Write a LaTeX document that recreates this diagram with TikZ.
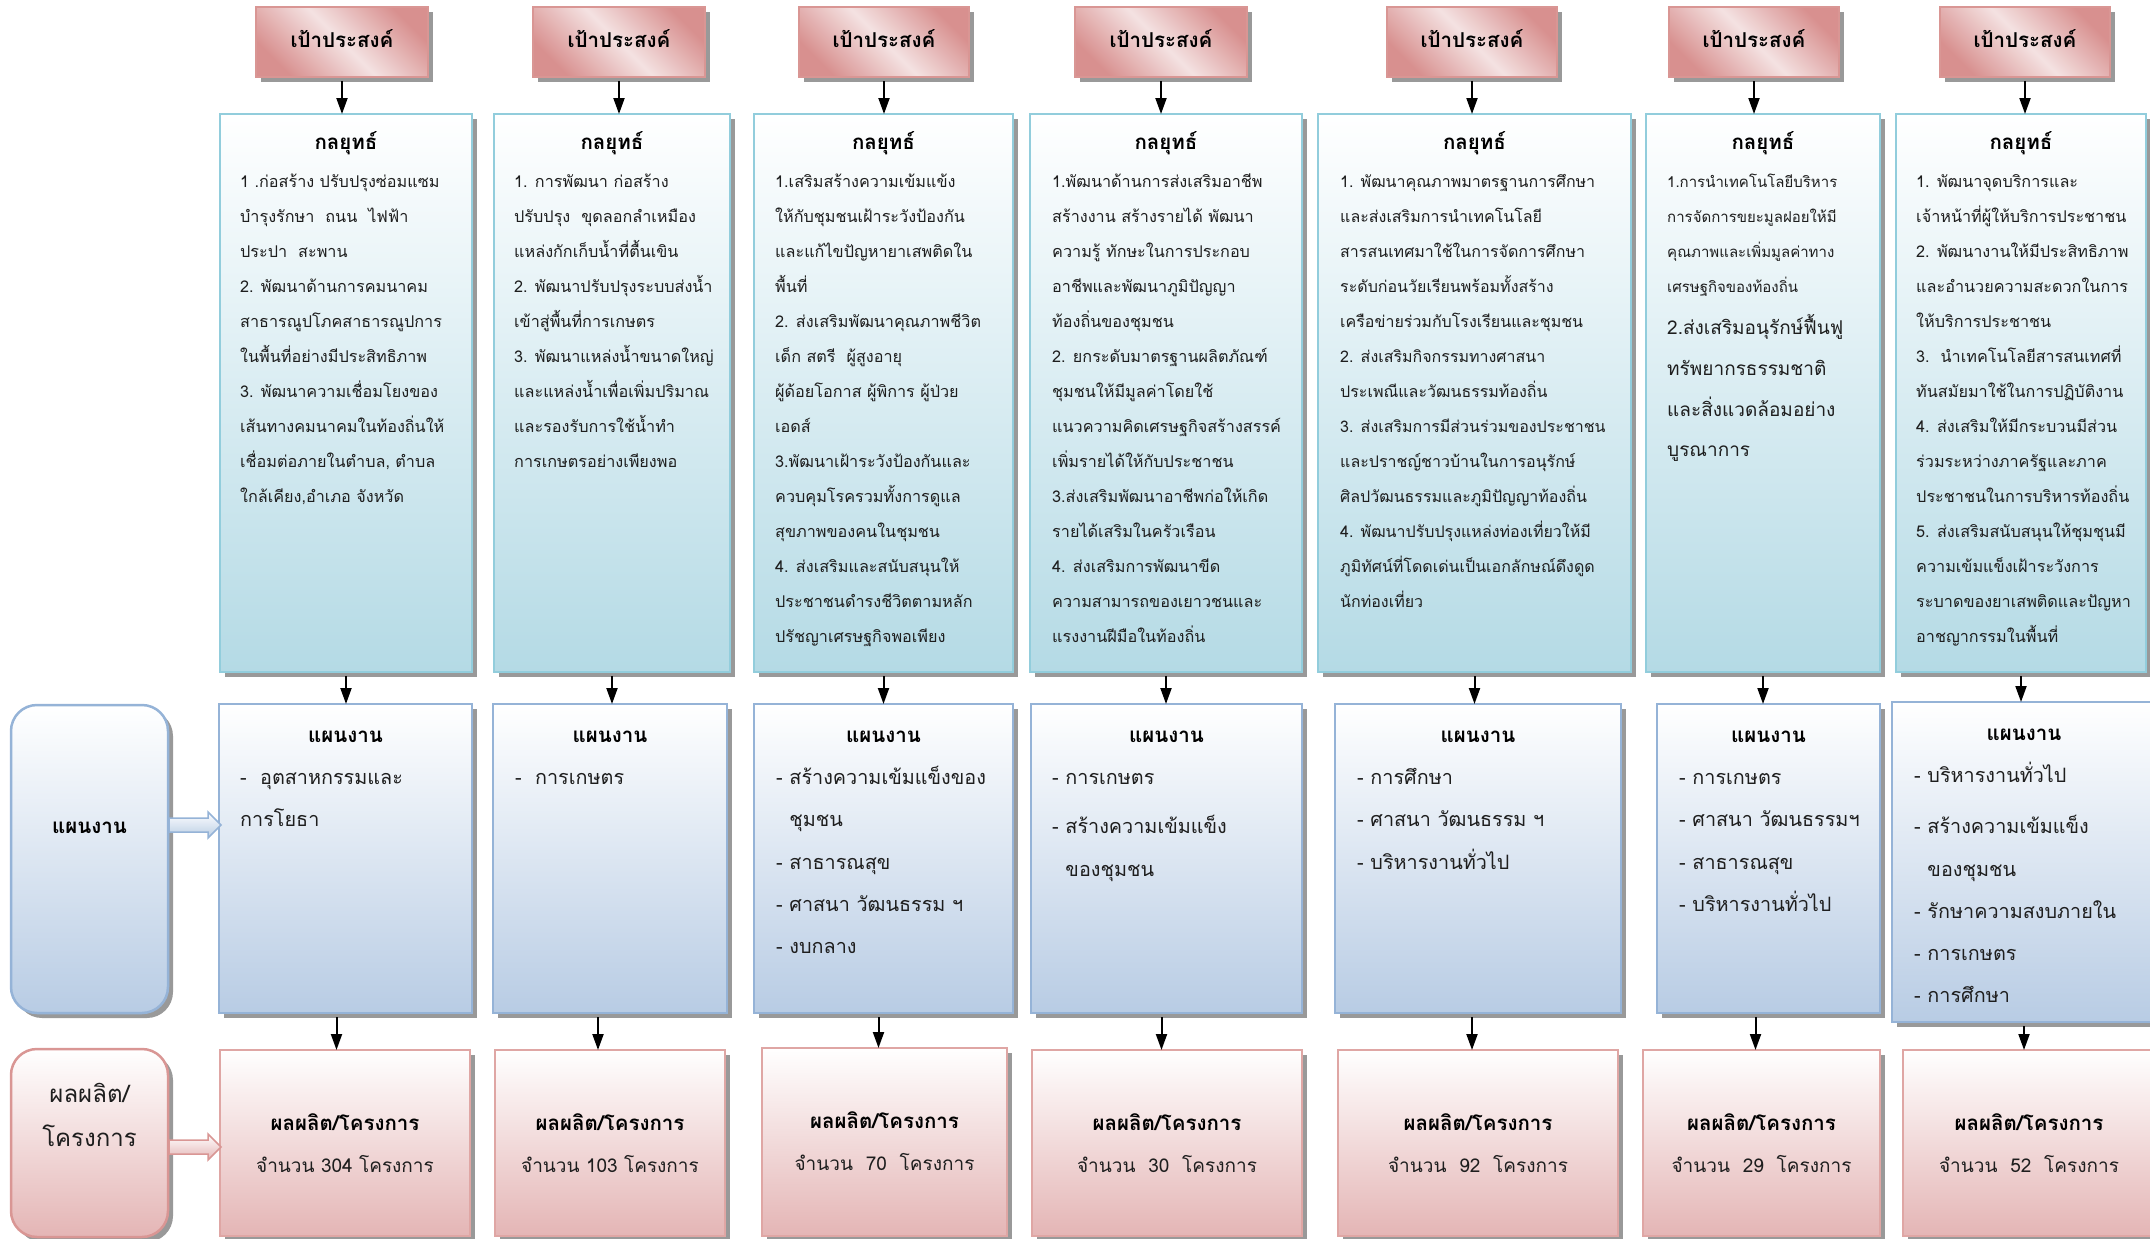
\documentclass[tikz,border=0pt]{standalone}
\usepackage{fontspec}
\setmainfont[Script=Thai]{Loma}
\usetikzlibrary{shadows,calc,arrows.meta}
\definecolor{pinkB}{HTML}{D99694}
\definecolor{pinkD}{HTML}{D8908F}
\definecolor{pinkL}{HTML}{F4E2E2}
\definecolor{cyanB}{HTML}{92CDDC}
\definecolor{cyanF}{HTML}{B4DAE5}
\definecolor{blueB}{HTML}{95B3D7}
\definecolor{blueF}{HTML}{B8CCE4}
\definecolor{outF}{HTML}{E4B5B5}
\definecolor{txt}{HTML}{1E1E1E}
\tikzset{
 boxbase/.style={rectangle, anchor=north west, inner sep=0pt, outer sep=0pt, line width=2.5pt,
   drop shadow={shadow xshift=5pt, shadow yshift=-5pt, fill=black, opacity=0.4}},
 goalbox/.style={boxbase, draw=pinkB, top color=pinkD, bottom color=pinkD, middle color=pinkL, shading angle=-45},
 stratbox/.style={boxbase, draw=cyanB, top color=white, bottom color=cyanF},
 planbox/.style={boxbase, draw=blueB, top color=white, bottom color=blueF},
 outbox/.style={boxbase, draw=pinkB!85, top color=white, bottom color=outF},
 sidebluebox/.style={boxbase, rounded corners=26pt, draw=blueB, top color=white, bottom color=blueF},
 sidepinkbox/.style={boxbase, rounded corners=26pt, draw=pinkB, top color=white, bottom color=outF},
 arr/.style={line width=2pt, -{Triangle[length=16pt,width=11pt]}},
 ttl/.style={inner sep=0pt, font=\bfseries\fontsize{20.5}{24}\selectfont, text=black},
 stxt/.style={anchor=north west, inner sep=0pt, align=left, text=txt, font=\fontsize{16.2}{35}\selectfont},
 ptxt/.style={anchor=north west, inner sep=0pt, align=left, text=txt, font=\fontsize{19.8}{42.2}\selectfont},
 otxt/.style={inner sep=0pt, text=txt, font=\fontsize{19}{22}\selectfont},
 bluearrow/.style={draw=blueB, line width=1.5pt, top color=white, bottom color=blueF},
 pinkarrow/.style={draw=pinkB, line width=1.5pt, top color=white, bottom color=outF},
}
\begin{document}
\begin{tikzpicture}[x=1pt,y=-1pt]
\useasboundingbox (0,0) rectangle (2150,1239);
% goal boxes
\node[goalbox, minimum width=172pt, minimum height=70pt] (h1) at (256,7) {};
\node[goalbox, minimum width=172pt, minimum height=70pt] (h2) at (533,7) {};
\node[goalbox, minimum width=170pt, minimum height=70pt] (h3) at (799,7) {};
\node[goalbox, minimum width=172pt, minimum height=70pt] (h4) at (1075,7) {};
\node[goalbox, minimum width=170pt, minimum height=70pt] (h5) at (1387,7) {};
\node[goalbox, minimum width=170pt, minimum height=70pt] (h6) at (1669,7) {};
\node[goalbox, minimum width=170pt, minimum height=70pt] (h7) at (1940,7) {};
\foreach \i in {1,...,7}{
  \node[ttl] (ht\i) at ($(h\i.center)+(0,-3)$) {เป้าประสงค์};
}
% strategy boxes
\node[stratbox, minimum width=252pt, minimum height=558pt] (s1) at (220,114) {};
\node[stratbox, minimum width=236pt, minimum height=558pt] (s2) at (494,114) {};
\node[stratbox, minimum width=259pt, minimum height=558pt] (s3) at (754,114) {};
\node[stratbox, minimum width=272pt, minimum height=558pt] (s4) at (1030,114) {};
\node[stratbox, minimum width=313pt, minimum height=558pt] (s5) at (1318,114) {};
\node[stratbox, minimum width=234pt, minimum height=558pt] (s6) at (1646,114) {};
\node[stratbox, minimum width=250pt, minimum height=558pt] (s7) at (1896,114) {};
\foreach \i in {1,...,7}{
  \node[ttl] (st\i) at ($(s\i.north)+(0,29)$) {กลยุทธ์};
}
\node[stxt] (sb1) at (240,163) {\strut 1 .ก่อสร้าง ปรับปรุงซ่อมแซม\\
บำรุงรักษา\ \ ถนน\ \ ไฟฟ้า\\
ประปา\ \ สะพาน\\
2. พัฒนาด้านการคมนาคม\\
สาธารณูปโภคสาธารณูปการ\\
ในพื้นที่อย่างมีประสิทธิภาพ\\
3. พัฒนาความเชื่อมโยงของ\\
เส้นทางคมนาคมในท้องถิ่นให้\\
เชื่อมต่อภายในตำบล, ตำบล\\
ใกล้เคียง,อำเภอ จังหวัด};
\node[stxt] (sb2) at (514,163) {\strut 1. การพัฒนา ก่อสร้าง\\
ปรับปรุง\ \ ขุดลอกลำเหมือง\\
แหล่งกักเก็บน้ำที่ตื้นเขิน\\
2. พัฒนาปรับปรุงระบบส่งน้ำ\\
เข้าสู่พื้นที่การเกษตร\\
3. พัฒนาแหล่งน้ำขนาดใหญ่\\
และแหล่งน้ำเพื่อเพิ่มปริมาณ\\
และรองรับการใช้น้ำทำ\\
การเกษตรอย่างเพียงพอ};
\node[stxt] (sb3) at (775,163) {\strut 1.เสริมสร้างความเข้มแข้ง\\
ให้กับชุมชนเฝ้าระวังป้องกัน\\
และแก้ไขปัญหายาเสพติดใน\\
พื้นที่\\
2. ส่งเสริมพัฒนาคุณภาพชีวิต\\
เด็ก สตรี\ \ ผู้สูงอายุ\\
ผู้ด้อยโอกาส ผู้พิการ ผู้ป่วย\\
เอดส์\\
3.พัฒนาเฝ้าระวังป้องกันและ\\
ควบคุมโรครวมทั้งการดูแล\\
สุขภาพของคนในชุมชน\\
4. ส่งเสริมและสนับสนุนให้\\
ประชาชนดำรงชีวิตตามหลัก\\
ปรัชญาเศรษฐกิจพอเพียง};
\node[stxt] (sb4) at (1052,163) {\strut 1.พัฒนาด้านการส่งเสริมอาชีพ\\
สร้างงาน สร้างรายได้ พัฒนา\\
ความรู้ ทักษะในการประกอบ\\
อาชีพและพัฒนาภูมิปัญญา\\
ท้องถิ่นของชุมชน\\
2. ยกระดับมาตรฐานผลิตภัณฑ์\\
ชุมชนให้มีมูลค่าโดยใช้\\
แนวความคิดเศรษฐกิจสร้างสรรค์\\
เพิ่มรายได้ให้กับประชาชน\\
3.ส่งเสริมพัฒนาอาชีพก่อให้เกิด\\
รายได้เสริมในครัวเรือน\\
4. ส่งเสริมการพัฒนาขีด\\
ความสามารถของเยาวชนและ\\
แรงงานฝีมือในท้องถิ่น};
\node[stxt, font=\fontsize{16}{35}\selectfont] (sb5) at (1340,163) {\strut 1. พัฒนาคุณภาพมาตรฐานการศึกษา\\
และส่งเสริมการนำเทคโนโลยี\\
สารสนเทศมาใช้ในการจัดการศึกษา\\
ระดับก่อนวัยเรียนพร้อมทั้งสร้าง\\
เครือข่ายร่วมกับโรงเรียนและชุมชน\\
2. ส่งเสริมกิจกรรมทางศาสนา\\
ประเพณีและวัฒนธรรมท้องถิ่น\\
3. ส่งเสริมการมีส่วนร่วมของประชาชน\\
และปราชญ์ชาวบ้านในการอนุรักษ์\\
ศิลปวัฒนธรรมและภูมิปัญญาท้องถิ่น\\
4. พัฒนาปรับปรุงแหล่งท่องเที่ยวให้มี\\
ภูมิทัศน์ที่โดดเด่นเป็นเอกลักษณ์ดึงดูด\\
นักท่องเที่ยว};
\node[stxt, font=\fontsize{15}{35}\selectfont] (sb6a) at (1667,163) {\strut 1.การนำเทคโนโลยีบริหาร\\
การจัดการขยะมูลฝอยให้มี\\
คุณภาพและเพิ่มมูลค่าทาง\\
เศรษฐกิจของท้องถิ่น};
\node[stxt, font=\fontsize{19}{40.7}\selectfont] (sb6b) at (1667,306) {\strut 2.ส่งเสริมอนุรักษ์ฟื้นฟู\\
ทรัพยากรธรรมชาติ\\
และสิ่งแวดล้อมอย่าง\\
บูรณาการ};
\node[stxt] (sb7) at (1916,163) {\strut 1. พัฒนาจุดบริการและ\\
เจ้าหน้าที่ผู้ให้บริการประชาชน\\
2. พัฒนางานให้มีประสิทธิภาพ\\
และอำนวยความสะดวกในการ\\
ให้บริการประชาชน\\
3.\ \ นำเทคโนโลยีสารสนเทศที่\\
ทันสมัยมาใช้ในการปฏิบัติงาน\\
4. ส่งเสริมให้มีกระบวนมีส่วน\\
ร่วมระหว่างภาครัฐและภาค\\
ประชาชนในการบริหารท้องถิ่น\\
5. ส่งเสริมสนับสนุนให้ชุมชุนมี\\
ความเข้มแข็งเฝ้าระวังการ\\
ระบาดของยาเสพติดและปัญหา\\
อาชญากรรมในพื้นที่};
% plan boxes
\node[planbox, minimum width=253pt, minimum height=309pt] (p1) at (219,704) {};
\node[planbox, minimum width=234pt, minimum height=309pt] (p2) at (493,704) {};
\node[planbox, minimum width=259pt, minimum height=309pt] (p3) at (754,704) {};
\node[planbox, minimum width=271pt, minimum height=309pt] (p4) at (1031,704) {};
\node[planbox, minimum width=286pt, minimum height=309pt] (p5) at (1335,704) {};
\node[planbox, minimum width=223pt, minimum height=309pt] (p6) at (1657,704) {};
\node[planbox, minimum width=264pt, minimum height=320pt] (p7) at (1892,702) {};
\foreach \i in {1,...,7}{
  \node[ttl] (pt\i) at ($(p\i.north)+(0,33)$) {แผนงาน};
}
\node[ptxt] (pb1) at (240,755) {\strut -\ \ อุตสาหกรรมและ\\การโยธา};
\node[ptxt] (pb2) at (515,755) {\strut -\ \ การเกษตร};
\node[ptxt] (pb3) at (776,755) {\strut - สร้างความเข้มแข็งของ\\\hphantom{- }ชุมชน\\- สาธารณสุข\\- ศาสนา วัฒนธรรม ฯ\\- งบกลาง};
\node[ptxt] (pb4) at (1052,755) {\strut - การเกษตร\\[7pt]- สร้างความเข้มแข็ง\\\hphantom{- }ของชุมชน};
\node[ptxt] (pb5) at (1357,755) {\strut - การศึกษา\\- ศาสนา วัฒนธรรม ฯ\\- บริหารงานทั่วไป};
\node[ptxt] (pb6) at (1679,755) {\strut - การเกษตร\\- ศาสนา วัฒนธรรมฯ\\- สาธารณสุข\\- บริหารงานทั่วไป};
\node[ptxt] (pb7) at (1914,753) {\strut - บริหารงานทั่วไป\\[9pt]- สร้างความเข้มแข็ง\\\hphantom{- }ของชุมชน\\- รักษาความสงบภายใน\\- การเกษตร\\- การศึกษา};
% output boxes
\node[outbox, minimum width=250pt, minimum height=186pt] (o1) at (220,1050) {};
\node[outbox, minimum width=230pt, minimum height=186pt] (o2) at (495,1050) {};
\node[outbox, minimum width=245pt, minimum height=188pt] (o3) at (762,1048) {};
\node[outbox, minimum width=270pt, minimum height=186pt] (o4) at (1032,1050) {};
\node[outbox, minimum width=280pt, minimum height=186pt] (o5) at (1338,1050) {};
\node[outbox, minimum width=237pt, minimum height=186pt] (o6) at (1643,1050) {};
\node[outbox, minimum width=252pt, minimum height=186pt] (o7) at (1903,1050) {};
\foreach \i/\n in {1/จำนวน 304 โครงการ,2/จำนวน 103 โครงการ,3/จำนวน\ \ 70\ \ โครงการ,4/จำนวน\ \ 30\ \ โครงการ,5/จำนวน\ \ 92\ \ โครงการ,6/จำนวน\ \ 29\ \ โครงการ,7/จำนวน\ \ 52\ \ โครงการ}{
  \node[ttl] (ot\i) at ($(o\i.north)+(0,72)$) {ผลผลิต/โครงการ};
  \node[otxt] (oc\i) at ($(o\i.north)+(0,114)$) {\n};
}
% side boxes
\node[sidebluebox, minimum width=157pt, minimum height=308pt] (lp) at (11,705) {};
\node[ttl] (lpt) at ($(lp.north)+(0,123)$) {แผนงาน};
\node[sidepinkbox, minimum width=157pt, minimum height=188pt] (lo) at (11,1049) {};
\node[inner sep=0pt, align=center, text=txt, font=\fontsize{24}{44}\selectfont] (lot) at ($(lo.north)+(0,66)$) {ผลผลิต/\\โครงการ};
% block arrows
\path (lp.north east) ++(1,120) coordinate (ba1);
\draw[bluearrow] (ba1) ++(0,-7) -- ++(39,0) -- ++(0,-6) -- ++(13,13) -- ++(-13,13) -- ++(0,-6) -- ++(-39,0) -- cycle;
\path (lo.north east) ++(1,98) coordinate (ba2);
\draw[pinkarrow] (ba2) ++(0,-7) -- ++(39,0) -- ++(0,-6) -- ++(13,13) -- ++(-13,13) -- ++(0,-6) -- ++(-39,0) -- cycle;
% connectors
\foreach \i in {1,...,7}{
  \draw[arr] ($(h\i.south)+(0,4)$) -- (h\i.south |- s\i.north);
  \draw[arr] ($(s\i.south)+(0,4)$) -- (s\i.south |- p\i.north);
}
\foreach \i/\d in {1/-9,2/-12,3/-5,4/-5,5/-6,6/-13,7/0}{
  \draw[arr] ($(p\i.south)+(\d,4)$) -- ($(p\i.south |- o\i.north)+(\d,0)$);
}
\end{tikzpicture}
\end{document}
